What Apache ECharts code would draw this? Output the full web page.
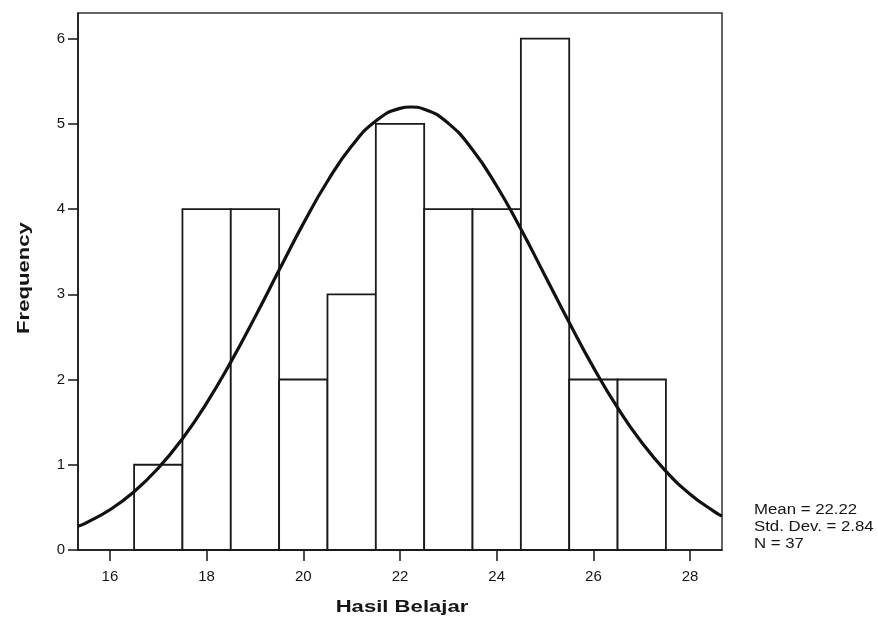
<!DOCTYPE html>
<html>
<head>
<meta charset="utf-8">
<script src="https://cdn.jsdelivr.net/npm/echarts@6/dist/echarts.min.js"></script>
<style>
  html, body { margin: 0; padding: 0; background: #fff; }
  #chart { width: 878px; height: 626px; }
</style>
</head>
<body>
<div id="chart"></div>
<script>
// Histogram bins (bin centres, width 1) and their frequencies
const binCenters = [17, 18, 19, 20, 21, 22, 23, 24, 25, 26, 27];
const frequencies = [1, 4, 4, 2, 3, 5, 4, 4, 6, 2, 2];

// Normal curve overlay (Mean 22.22, Std. Dev. 2.84, N 37)
const curveX = [15.34, 15.5, 16, 16.5, 17, 17.5, 18, 18.5, 19, 19.5, 20, 20.5, 21, 21.5, 22, 22.22,
                22.5, 23, 23.5, 24, 24.5, 25, 25.5, 26, 26.5, 27, 27.5, 28, 28.5, 28.66];
const curveY = [0.278, 0.316, 0.472, 0.684, 0.960, 1.306, 1.723, 2.204, 2.732, 3.284, 3.829, 4.326, 4.739, 5.033, 5.181, 5.197,
                5.172, 5.005, 4.695, 4.270, 3.765, 3.218, 2.668, 2.143, 1.670, 1.261, 0.923, 0.655, 0.451, 0.397];

const xTicks = [16, 18, 20, 22, 24, 26, 28];
const yTicks = [0, 1, 2, 3, 4, 5, 6];
const xTitle = 'Hasil Belajar';
const yTitle = 'Frequency';
const statsLines = ['Mean = 22.22', 'Std. Dev. = 2.84', 'N = 37'];

const chart = echarts.init(document.getElementById('chart'), null, { renderer: 'canvas' });

const font = '"Liberation Sans", Arial, sans-serif';
const ink = '#151515';

// Wide-set text (titles and the statistics box)
function wideText(text, x, y, size, weight, rotation, stretch, align) {
  return {
    type: 'text',
    x: x, y: y,
    rotation: rotation,
    scaleX: stretch,
    silent: true,
    style: {
      text: text, x: 0, y: 0,
      font: weight + ' ' + size + 'px ' + font,
      fill: ink,
      align: align, textAlign: align,
      verticalAlign: 'middle', textVerticalAlign: 'middle'
    }
  };
}

chart.setOption({
  animation: false,
  backgroundColor: '#ffffff',
  grid: { left: 78, right: 156, top: 13, bottom: 76, show: true, borderColor: '#333', borderWidth: 1.5, backgroundColor: 'transparent' },
  xAxis: {
    type: 'value',
    min: 15.34,
    max: 28.66,
    interval: 2,
    axisLine: { show: true, onZero: false, lineStyle: { color: ink, width: 1.5 } },
    axisTick: { show: true, length: 11, lineStyle: { color: ink, width: 1.5 },
                customValues: xTicks },
    axisLabel: { fontFamily: font, fontSize: 15, color: ink, margin: 19,
                 customValues: xTicks, formatter: v => String(v) },
    splitLine: { show: false }
  },
  yAxis: {
    type: 'value',
    min: 0,
    max: 6.3,
    axisLine: { show: true, lineStyle: { color: ink, width: 1.5 } },
    axisTick: { show: true, length: 10, lineStyle: { color: ink, width: 1.5 },
                customValues: yTicks },
    axisLabel: { fontFamily: font, fontSize: 15, color: ink, margin: 13,
                 customValues: yTicks, formatter: v => String(v) },
    splitLine: { show: false }
  },
  graphic: [
    wideText(xTitle, 402, 607, 17, 'bold', 0, 1.3, 'center'),
    wideText(yTitle, 24, 278, 17, 'bold', Math.PI / 2, 1.3, 'center')
  ].concat(statsLines.map((t, i) => wideText(t, 754, 510 + i * 17, 14, 'normal', 0, 1.2, 'left'))),
  series: [
    {
      type: 'custom',
      data: binCenters.map((c, i) => [c, frequencies[i]]),
      renderItem: function (params, api) {
        const c = api.value(0), f = api.value(1);
        const p0 = api.coord([c - 0.5, 0]);
        const p1 = api.coord([c + 0.5, f]);
        return {
          type: 'rect',
          shape: { x: p0[0], y: p1[1], width: p1[0] - p0[0], height: p0[1] - p1[1] },
          style: { fill: '#ffffff', stroke: '#1a1a1a', lineWidth: 1.8 }
        };
      },
      z: 2
    },
    {
      type: 'line',
      data: curveX.map((x, i) => [x, curveY[i]]),
      smooth: true,
      showSymbol: false,
      lineStyle: { color: '#111', width: 3.2 },
      z: 3
    }
  ]
});
</script>
</body>
</html>
